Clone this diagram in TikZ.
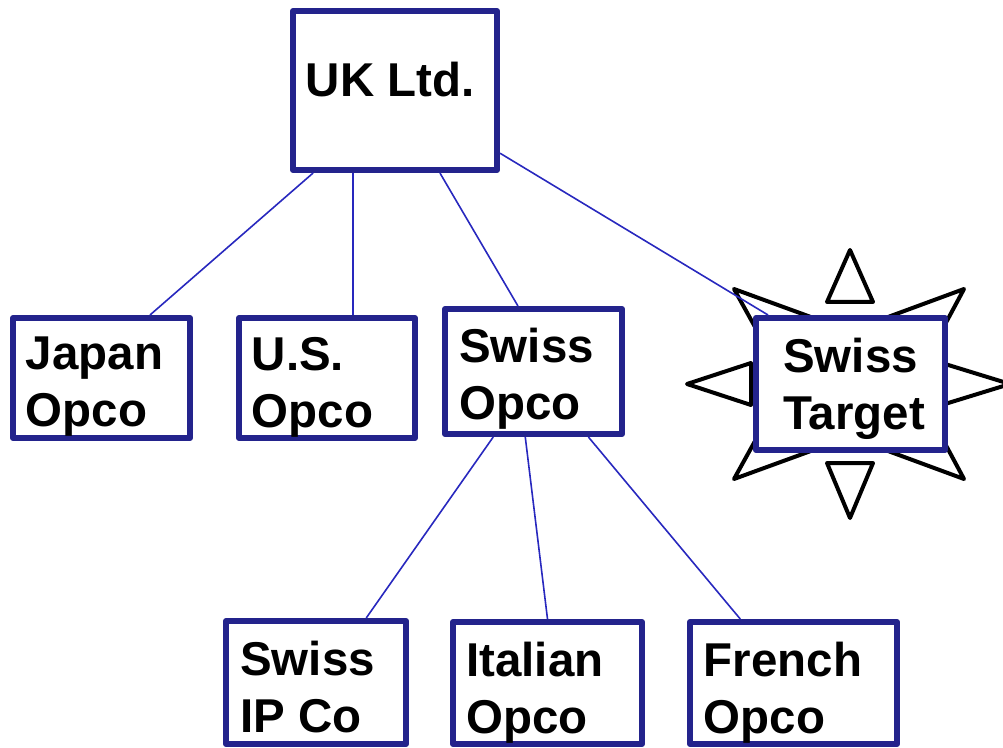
\documentclass[tikz,border=0pt]{standalone}
\usepackage{fontspec}
\setmainfont{Liberation Sans}
\usetikzlibrary{calc}
\definecolor{boxblue}{RGB}{35,35,140}
\definecolor{linkblue}{RGB}{40,40,190}
\begin{document}
\begin{tikzpicture}[x=0.75pt,y=-0.75pt,
  box/.style={draw=boxblue, line width=4.5pt, fill=white, rectangle, inner sep=0pt, line join=round},
  lbl/.style={anchor=north west, inner sep=0pt, align=left, font=\fontsize{35.6}{42.75}\selectfont\bfseries},
  link/.style={draw=linkblue, line width=1.2pt},
  spike/.style={draw=black, line width=3pt, fill=white, line join=round}]
\useasboundingbox (0,0) rectangle (1003,748);
% star spikes behind Swiss Target
\draw[spike] (850,250) -- (873,302) -- (827,302) -- cycle;
\draw[spike] (850,518) -- (873,463) -- (827,463) -- cycle;
\draw[spike] (687,384) -- (751,363) -- (751,405) -- cycle;
\draw[spike] (1010,384) -- (945,364) -- (945,404) -- cycle;
\draw[spike] (734,289) -- (830,324) -- (765,345) -- cycle;
\draw[spike] (964,289) -- (869,324) -- (934,345) -- cycle;
\draw[spike] (734,479) -- (830,444) -- (765,423) -- cycle;
\draw[spike] (964,479) -- (869,444) -- (934,423) -- cycle;
% boxes
\node[box, minimum width=153pt, minimum height=119.25pt] (uk) at (395,90.5) {};
\node[box, minimum width=132.75pt, minimum height=90pt] (jp) at (101.5,378) {};
\node[box, minimum width=132pt, minimum height=90pt] (us) at (327,378) {};
\node[box, minimum width=132.75pt, minimum height=93.75pt] (so) at (533.5,371.5) {};
\node[box, minimum width=141.75pt, minimum height=99pt] (st) at (850.5,384) {};
\node[box, minimum width=135pt, minimum height=92.25pt] (ip) at (316,682.5) {};
\node[box, minimum width=141.75pt, minimum height=91.5pt] (it) at (547.5,683) {};
\node[box, minimum width=155.25pt, minimum height=91.5pt] (fr) at (793.5,683) {};
% labels
\node[lbl] (ukt) at (305.6,62) {UK Ltd.};
\node[lbl] (jpt) at (25.7,337) {Japan\\Opco};
\node[lbl] (ust) at (251.6,337) {U.S.\\Opco};
\node[lbl] (sot) at (459,328) {Swiss\\Opco};
\node[lbl] (stt) at (783,338) {Swiss\\Target};
\node[lbl] (ipt) at (240,641) {Swiss\\IP Co};
\node[lbl] (itt) at (466,642) {Italian\\Opco};
\node[lbl] (frt) at (703.5,642) {French\\Opco};
% connectors
\draw[link] ($(uk.south west)!0.11!(uk.south east)$) -- ($(jp.north west)!0.765!(jp.north east)$);
\draw[link] ($(uk.south west)!0.30!(uk.south east)$) -- ($(us.north west)!0.643!(us.north east)$);
\draw[link] ($(uk.south west)!0.714!(uk.south east)$) -- ($(so.north west)!0.415!(so.north east)$);
\draw[link] ($(uk.north east)!0.88!(uk.south east)$) -- ($(st.north west)!0.077!(st.north east)$);
\draw[link] ($(so.south west)!0.28!(so.south east)$) -- ($(ip.north west)!0.77!(ip.north east)$);
\draw[link] ($(so.south west)!0.455!(so.south east)$) -- ($(it.north west)!0.50!(it.north east)$);
\draw[link] ($(so.south west)!0.80!(so.south east)$) -- ($(fr.north west)!0.25!(fr.north east)$);
\end{tikzpicture}
\end{document}
